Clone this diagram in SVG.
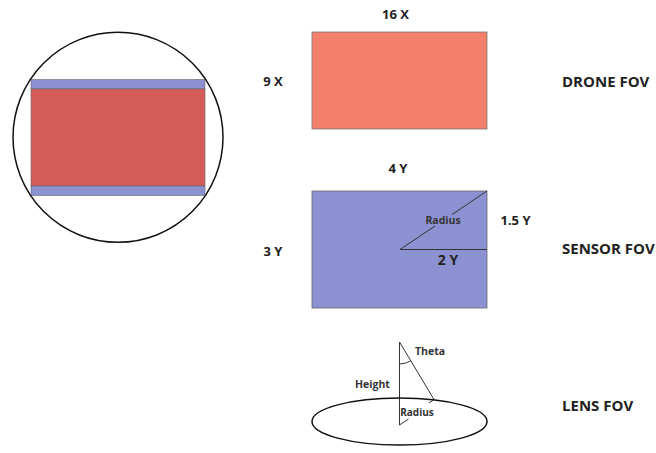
<svg xmlns="http://www.w3.org/2000/svg" width="656" height="453" viewBox="0 0 656 453">
<style>
.t{font-family:"Open Sans","Liberation Sans",sans-serif;font-weight:bold;fill:#222}
.l{font-size:13px}
.h{font-size:15px}
.s{font-size:10.5px;fill:#333}
.ln{stroke:#333;stroke-width:1;fill:none}
</style>
<rect width="656" height="453" fill="#fff"/>
<g id="viewport">
<rect x="31" y="79.5" width="174" height="9.5" fill="#8c91d1" stroke="#666" stroke-width="0.6"/>
<rect x="31" y="89" width="174" height="97" fill="#d45d59" stroke="#666" stroke-width="0.6"/>
<rect x="31" y="186" width="174" height="9.5" fill="#8c91d1" stroke="#666" stroke-width="0.6"/>
<circle cx="118" cy="137.3" r="105" fill="none" stroke="#111" stroke-width="1.5"/>
</g>
<g id="drone">
<rect x="312" y="32" width="175" height="97" fill="#f4806c" stroke="#777" stroke-width="0.8"/>
<text class="t l" x="395.5" y="19" text-anchor="middle">16 X</text>
<text class="t l" x="273" y="86" text-anchor="middle">9 X</text>
<text class="t h" x="562" y="87">DRONE FOV</text>
</g>
<g id="sensor">
<rect x="312" y="191" width="175" height="117" fill="#8c91d1" stroke="#666" stroke-width="0.8"/>
<text class="t l" x="398" y="173" text-anchor="middle">4 Y</text>
<text class="t l" x="273" y="256" text-anchor="middle">3 Y</text>
<text class="t l" x="515.5" y="225" text-anchor="middle">1.5 Y</text>
<text class="t" style="font-size:14px" x="448" y="265" text-anchor="middle">2 Y</text>
<text class="t h" x="562" y="254">SENSOR FOV</text>
</g>
<g id="connectors">
<line class="ln" x1="400" y1="249.5" x2="487" y2="249.5"/>
<line class="ln" x1="400" y1="249.5" x2="435" y2="226"/>
<line class="ln" x1="452" y1="214.5" x2="487" y2="191"/>
<line class="ln" x1="399.5" y1="342" x2="399.5" y2="425"/>
<line class="ln" x1="399.5" y1="342" x2="434" y2="399.5"/>
<path class="ln" d="M399.5 364 A22 22 0 0 0 410.8 360.8"/>
<line class="ln" x1="399.5" y1="425" x2="408.5" y2="419"/>
<line class="ln" x1="429" y1="403" x2="434" y2="399.5"/>
</g>
<text class="t s" x="443" y="223.5" text-anchor="middle">Radius</text>
<g id="lens">
<ellipse cx="399.5" cy="421.5" rx="87.5" ry="23.5" fill="none" stroke="#111" stroke-width="1.5"/>
<text class="t s" x="415" y="355">Theta</text>
<text class="t s" x="372.5" y="387.5" text-anchor="middle">Height</text>
<text class="t s" style="font-size:10px" x="417" y="415.5" text-anchor="middle">Radius</text>
<text class="t h" x="562" y="411">LENS FOV</text>
</g>
</svg>
